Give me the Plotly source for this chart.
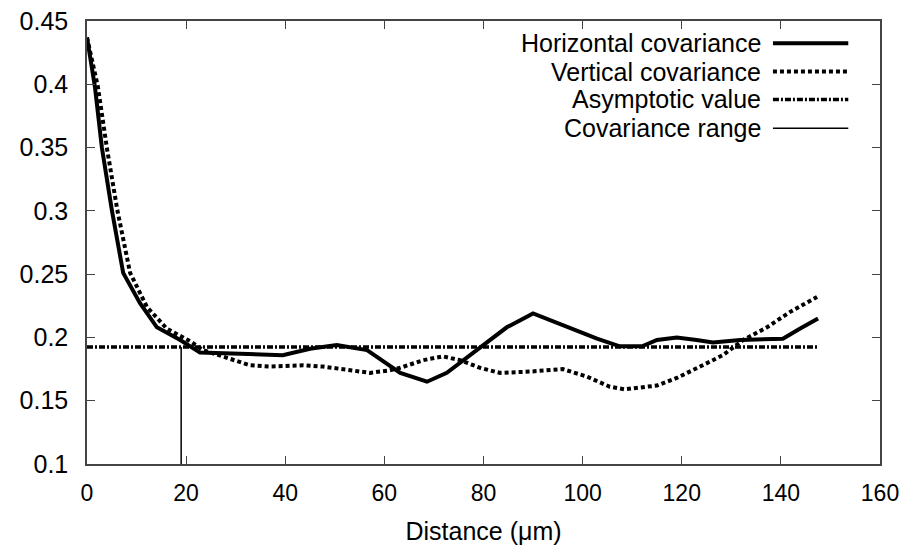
import plotly.graph_objects as go

# Horizontal covariance (solid line)
h_dist = [0, 1.6, 3.0, 5.0, 7.3, 10.7, 14.1, 18.8, 22.8, 29.5, 39.5, 45.0, 50.4,
          56.5, 59.7, 63.2, 68.6, 72.6, 79.3, 84.7, 90.0, 96.9, 102.9, 107.5,
          112.0, 115.0, 119.0, 123.0, 126.3, 131.8, 140.4, 143.9, 147.5]
h_cov = [0.437, 0.398, 0.350, 0.301, 0.251, 0.227, 0.208, 0.198, 0.188, 0.187, 0.186,
         0.191, 0.194, 0.190, 0.181, 0.172, 0.165, 0.172, 0.192, 0.208, 0.219, 0.208,
         0.199, 0.193, 0.193, 0.198, 0.200, 0.198, 0.196, 0.198, 0.199, 0.207, 0.215]

# Vertical covariance (dotted line)
v_dist = [0, 2.2, 4.0, 6.1, 8.7, 12.1, 16.1, 20.8, 23.4, 28.2, 32.9, 36.9, 43.6,
          47.6, 53.0, 57.1, 61.1, 63.2, 67.8, 71.8, 75.3, 79.3, 83.3, 89.4, 96.0,
          100.9, 105.5, 108.5, 115.0, 119.0, 123.7, 128.3, 132.4, 137.2, 141.8, 147.3]
v_cov = [0.437, 0.398, 0.350, 0.301, 0.251, 0.224, 0.207, 0.197, 0.190, 0.184, 0.178,
         0.177, 0.178, 0.177, 0.174, 0.172, 0.174, 0.176, 0.182, 0.185, 0.182, 0.176,
         0.172, 0.173, 0.175, 0.169, 0.161, 0.159, 0.162, 0.168, 0.177, 0.186, 0.198,
         0.208, 0.220, 0.232]

# asymptotic value and covariance range
asym_value = 0.1925
asym_span = [0, 147.5]
cov_range = 19.0

x_ticks = [0, 20, 40, 60, 80, 100, 120, 140, 160]
y_ticks = [0.1, 0.15, 0.2, 0.25, 0.3, 0.35, 0.4, 0.45]
y_labels = ['0.1', '0.15', '0.2', '0.25', '0.3', '0.35', '0.4', '0.45']

legend_names = ['Horizontal covariance', 'Vertical covariance',
                'Asymptotic value', 'Covariance range']

fig = go.Figure()

fig.add_trace(go.Scatter(x=h_dist, y=h_cov, mode='lines',
                         line=dict(color='black', width=4)))
fig.add_trace(go.Scatter(x=v_dist, y=v_cov, mode='lines',
                         line=dict(color='black', width=4, dash='4px,3px')))
fig.add_trace(go.Scatter(x=asym_span, y=[asym_value, asym_value], mode='lines',
                         line=dict(color='black', width=3.5, dash='6px,2px,2px,2px')))
fig.add_trace(go.Scatter(x=[cov_range, cov_range], y=[0.1, asym_value], mode='lines',
                         line=dict(color='black', width=1.5)))

# hand made legend: right aligned text, sample line on the right
styles = [dict(width=4), dict(width=4, dash='4px,3px'),
          dict(width=3.5, dash='6px,2px,2px,2px'), dict(width=1.5)]
rows = [0.950, 0.886, 0.823, 0.758]
for name, st, yy in zip(legend_names, styles, rows):
    fig.add_annotation(x=0.852, y=yy, xref='paper', yref='paper', text=name,
                       showarrow=False, xanchor='right', yanchor='middle',
                       font=dict(size=25, color='black'))
    fig.add_shape(type='line', xref='paper', yref='paper', x0=0.865, x1=0.96,
                  y0=yy, y1=yy, line=dict(color='black', **st))

fig.update_xaxes(range=[0, 160], tickvals=x_ticks, ticks='inside', ticklen=8,
                 showline=True, linecolor='#444', linewidth=1.5, mirror='ticks',
                 showgrid=False, zeroline=False, automargin=False,
                 ticklabelstandoff=8, ticklabeloverflow='allow',
                 tickfont=dict(size=23, color='black'),
                 title=dict(text='Distance (\u03bcm)', font=dict(size=25, color='black'),
                            standoff=17))
fig.update_yaxes(range=[0.1, 0.45], tickvals=y_ticks, ticktext=y_labels, ticks='inside',
                 ticklen=8, showline=True, linecolor='#444', linewidth=1.5,
                 mirror='ticks', showgrid=False, zeroline=False, automargin=False,
                 ticklabelstandoff=12, ticklabeloverflow='allow',
                 tickfont=dict(size=25, color='black'))

# page has an 8px body margin, so the margins are shifted by that
fig.update_layout(width=916, height=550, showlegend=False,
                  plot_bgcolor='white', paper_bgcolor='white',
                  font=dict(family='Liberation Sans, Arial, sans-serif', color='black'),
                  margin=dict(l=79, r=44, t=13, b=94))

fig.write_html('out.html')
